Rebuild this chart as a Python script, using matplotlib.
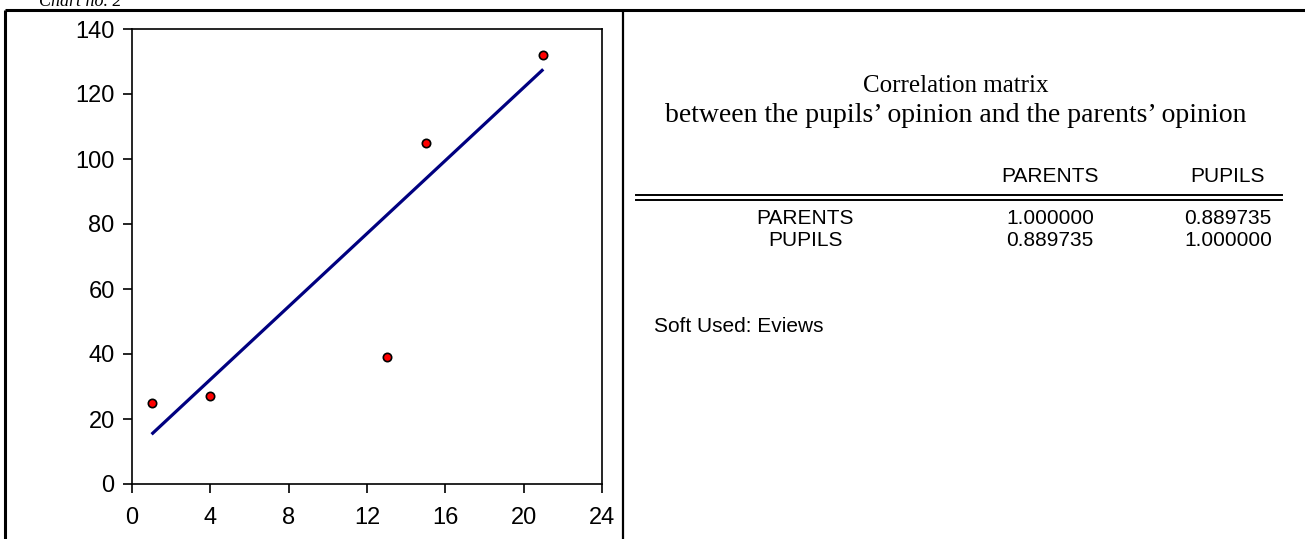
import matplotlib
matplotlib.use('Agg')
import matplotlib.pyplot as plt

# scatter data (x, y) and the regression line drawn in the chart
x_vals = [1, 4, 13, 15, 21]
y_vals = [25, 27, 39, 105, 132]
fit_x = [1, 21]
fit_y = [15.3, 127.6]

x_ticks = [0, 4, 8, 12, 16, 20, 24]
y_ticks = [0, 20, 40, 60, 80, 100, 120, 140]

# correlation table
col_labels = ['PARENTS', 'PUPILS']
row_labels = ['PARENTS', 'PUPILS']
table_vals = [['1.000000', '0.889735'],
              ['0.889735', '1.000000']]

W, H = 1305, 539
fig = plt.figure(figsize=(W / 100, H / 100), dpi=100)

# background layer in pixel coordinates for the frame and the table
bg = fig.add_axes([0, 0, 1, 1])
bg.set_xlim(0, W)
bg.set_ylim(H, 0)
bg.axis('off')

# frame
bg.plot([5, W], [10, 10], 'k', lw=2.2, solid_capstyle='butt')
bg.plot([5, 5], [10, H], 'k', lw=2.2, solid_capstyle='butt')
bg.plot([623, 623], [10, H], 'k', lw=1.6, solid_capstyle='butt')

bg.text(80, 6, 'Chart no. 2', family='Liberation Serif', style='italic',
        fontsize=13, ha='center', va='baseline')

# table titles
bg.text(956, 86, 'Correlation matrix', family='Liberation Serif',
        fontsize=18, ha='center', va='center')
bg.text(956, 115, "between the pupils\u2019 opinion and the parents\u2019 opinion",
        family='Liberation Serif', fontsize=20, ha='center', va='center')

col_x = [1050, 1228]
for icol, col in enumerate(col_labels):
    bg.text(col_x[icol], 177, col, family='Liberation Sans', fontsize=15,
            ha='center', va='center')
bg.plot([636, 1282], [195, 195], 'k', lw=1.4)
bg.plot([636, 1282], [199.5, 199.5], 'k', lw=1.4)

row_y = [218, 241]
for irow, row in enumerate(row_labels):
    bg.text(805, row_y[irow], row, family='Liberation Sans', fontsize=15,
            ha='center', va='center')
    for icol, cell in enumerate(table_vals[irow]):
        bg.text(col_x[icol], row_y[irow], cell, family='Liberation Sans',
                fontsize=15, ha='center', va='center')

bg.text(654, 326, 'Soft Used: Eviews', family='Liberation Sans', fontsize=15,
        ha='left', va='center')

# scatter plot
ax = fig.add_axes([132 / W, 1 - 484 / H, (602 - 132) / W, (484 - 29) / H])
ax.plot(fit_x, fit_y, color='#000080', lw=2.3, solid_capstyle='butt')
ax.plot(x_vals, y_vals, 'o', color='red', markeredgecolor='black',
        markersize=6, markeredgewidth=1.2)
ax.set_xlim(0, 24)
ax.set_ylim(0, 140)
ax.set_xticks(x_ticks)
ax.set_yticks(y_ticks)
ax.tick_params(direction='out', length=6.5, width=1.2, labelsize=17)
ax.tick_params(axis='x', pad=10)
ax.tick_params(axis='y', pad=6)
for lab in ax.get_xticklabels() + ax.get_yticklabels():
    lab.set_family('Liberation Sans')
for sp in ax.spines.values():
    sp.set_linewidth(1.2)

fig.savefig('out.png', dpi=100)
plt.close('all')
